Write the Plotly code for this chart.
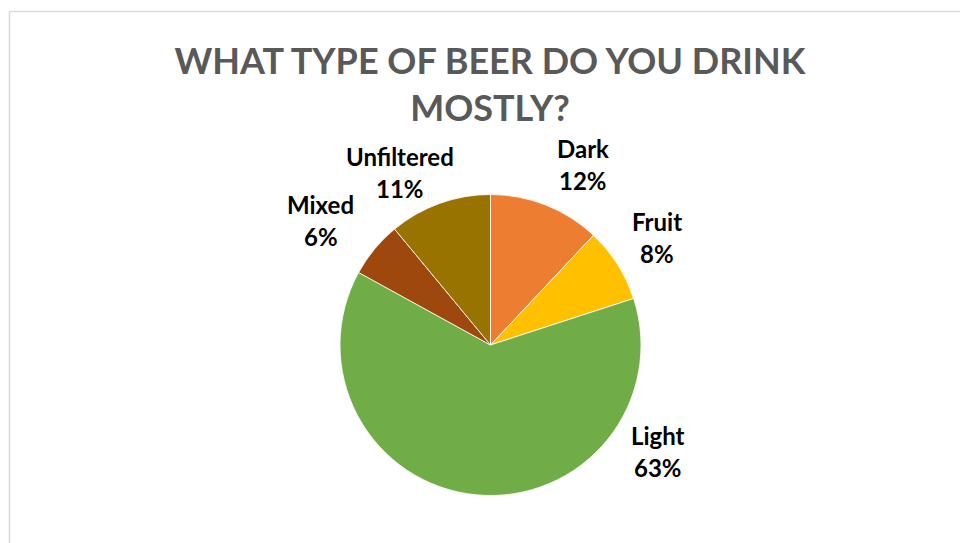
import plotly.graph_objects as go

# Survey answers: share of respondents per beer type (percent)
categories = ["Dark", "Fruit", "Light", "Mixed", "Unfiltered"]
shares = [12, 8, 63, 6, 11]
colors = ["#ED7D31", "#FFC000", "#70AD47", "#9E480E", "#997300"]

# Label anchor points (paper fractions) for each category, name line then value line
label_x = [0.6078, 0.6844, 0.6849, 0.3339, 0.4167]
label_y = [0.7256, 0.5930, 0.1971, 0.6225, 0.7127]

W, H = 960, 543
LINE_GAP = 32 / H

cx, cy, r = 490.5, 345.0, 150.5

fig = go.Figure()
fig.add_trace(go.Pie(
    labels=categories,
    values=shares,
    sort=False,
    direction="clockwise",
    rotation=0,
    marker=dict(colors=colors, line=dict(color="#FFFFFF", width=0.8)),
    textinfo="none",
    hoverinfo="label+percent",
    showlegend=False,
    domain=dict(x=[(cx - r) / W, (cx + r) / W], y=[1 - (cy + r) / H, 1 - (cy - r) / H]),
))

label_font = dict(family="Lato, 'Open Sans', sans-serif", size=24, color="#000000")
annotations = []
for name, val, lx, ly in zip(categories, shares, label_x, label_y):
    annotations.append(dict(x=lx, y=ly, xref="paper", yref="paper", text=f"<b>{name}</b>",
                            showarrow=False, xanchor="center", yanchor="middle", font=label_font))
    annotations.append(dict(x=lx, y=ly - LINE_GAP, xref="paper", yref="paper", text=f"<b>{val}%</b>",
                            showarrow=False, xanchor="center", yanchor="middle", font=label_font))

fig.update_layout(
    width=W, height=H,
    margin=dict(l=0, r=0, t=0, b=0),
    paper_bgcolor="#FFFFFF",
    plot_bgcolor="#FFFFFF",
    title=dict(
        text="<b>WHAT TYPE OF BEER DO YOU DRINK<br>MOSTLY?</b>",
        x=0.5104, xanchor="center",
        y=1 - 74 / H, yanchor="middle",
        font=dict(family="Lato, 'Open Sans', sans-serif", size=36, color="#595959"),
    ),
    annotations=annotations,
    shapes=[dict(type="rect", xref="paper", yref="paper",
                 x0=9.5 / W, x1=1.02, y0=-0.02, y1=1 - 11.5 / H,
                 line=dict(color="#D9D9D9", width=1.5), fillcolor="rgba(0,0,0,0)")],
)

fig.write_html("out.html")
